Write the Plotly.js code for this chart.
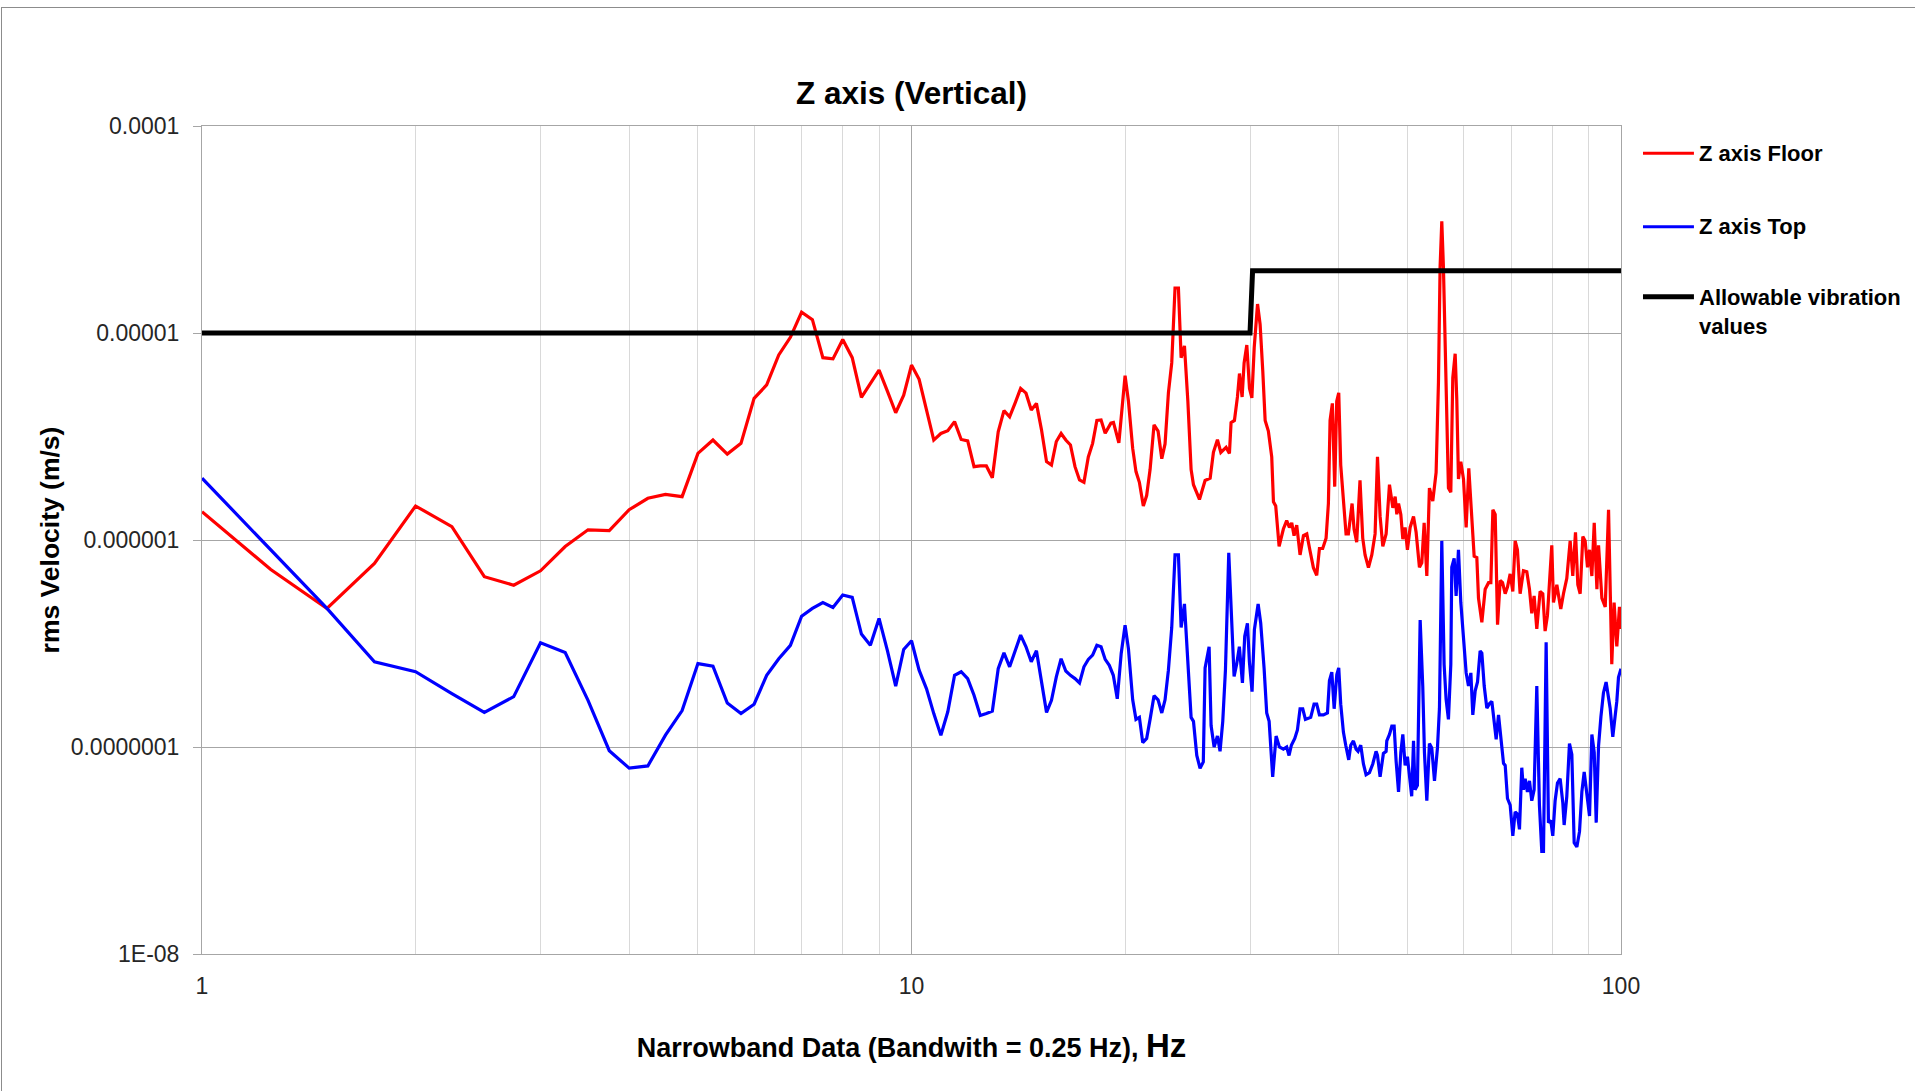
<!DOCTYPE html>
<html>
<head>
<meta charset="utf-8">
<script src="https://cdn.plot.ly/plotly-3.0.1.min.js"></script>
<style>
  html, body { margin: 0; padding: 0; background: #ffffff; }
  #chart { width: 1915px; height: 1091px; }
  #frame { position: absolute; top: 7px; left: 1px; width: 1920px; height: 1100px;
           border-top: 1px solid #8c8c8c; border-left: 1px solid #8c8c8c; pointer-events: none; }
</style>
</head>
<body>
<div id="chart"></div>
<div id="frame"></div>
<script>
// ---------- data ----------
const seriesNames = ['Z axis Floor', 'Z axis Top', 'Allowable vibration values'];

const floorHz = [
  1,1.25,1.5,1.75,2,2.25,2.5,2.75,3,3.25,3.5,3.75,4,4.25,4.5,4.75,5,5.25,5.5,5.75,
  6,6.25,6.5,6.75,7,7.25,7.5,7.75,8,8.25,8.5,8.75,9,9.25,9.5,9.75,10,10.25,10.5,10.75,
  11,11.25,11.5,11.75,12,12.25,12.5,12.75,13,13.25,13.5,13.75,14,14.25,14.5,14.75,15,15.25,15.5,15.75,
  16,16.25,16.5,16.75,17,17.25,17.5,17.75,18,18.25,18.5,18.75,19.1,19.26,19.6,
  20.0,20.22,20.5,20.72,20.95,21.22,21.45,21.69,21.97,22.26,22.53,22.77,23.02,23.27,23.52,23.78,23.99,24.25,24.52,24.78,24.97,
  25.46,25.93,26.36,26.64,26.99,27.29,27.76,28.06,28.21,28.52,28.8,28.99,29.24,29.43,29.69,29.95,30.18,30.41,30.74,31.0,
  31.27,31.51,31.84,32.19,32.37,32.61,32.97,33.43,33.79,34.09,34.35,34.61,34.91,35.29,35.68,36.07,36.45,36.85,37.25,37.58,
  37.98,38.4,38.69,38.9,39.19,39.49,39.75,40.01,40.27,40.62,40.97,41.28,41.78,42.05,42.41,42.87,43.25,43.58,44.06,44.54,
  45.02,45.37,45.76,46.16,46.66,47.17,47.69,
  48.05,48.31,48.58,48.94,49.26,49.63,50.0,50.44,51.0,51.43,51.99,52.39,52.79,53.25,53.7,54.29,54.88,55.3,55.59,55.9,
  56.2,56.69,57.12,57.56,57.93,58.38,58.69,59.01,59.46,59.98,60.5,61.02,61.63,62.09,62.63,62.97,63.66,64.35,65.06,65.55,
  65.98,66.48,66.99,67.56,68.08,68.67,69.18,69.79,70.39,70.93,71.45,72.08,72.86,73.66,74.3,74.86,75.43,76.09,76.91,77.58,
  78.17,78.76,79.88,80.32,81.2,82.25,82.97,83.87,84.79,85.51,86.27,86.93,87.59,88.35,89.02,89.7,90.29,90.98,91.68,92.48,
  92.97,93.98,95.01,96.04,97.05,97.79,98.65,99.5,100
];
const floorVel = [
  1.37e-6,7.2e-7,4.67e-7,7.7e-7,1.46e-6,1.16e-6,6.65e-7,6.05e-7,7.1e-7,9.3e-7,1.12e-6,1.11e-6,1.40e-6,1.59e-6,1.66e-6,1.62e-6,2.62e-6,3.04e-6,2.60e-6,2.93e-6,
  4.83e-6,5.61e-6,7.83e-6,9.53e-6,1.26e-5,1.16e-5,7.6e-6,7.5e-6,9.3e-6,7.6e-6,4.89e-6,5.69e-6,6.62e-6,5.22e-6,4.12e-6,5.01e-6,7.0e-6,5.97e-6,4.25e-6,3.04e-6,
  3.27e-6,3.37e-6,3.73e-6,3.06e-6,3.01e-6,2.26e-6,2.28e-6,2.28e-6,2.0e-6,3.33e-6,4.22e-6,3.94e-6,4.6e-6,5.4e-6,5.12e-6,4.25e-6,4.57e-6,3.4e-6,2.39e-6,2.3e-6,
  2.99e-6,3.27e-6,3.04e-6,2.88e-6,2.26e-6,1.95e-6,1.9e-6,2.52e-6,2.93e-6,3.78e-6,3.8e-6,3.28e-6,3.67e-6,3.7e-6,2.95e-6,
  6.22e-6,4.68e-6,2.77e-6,2.14e-6,1.90e-6,1.46e-6,1.64e-6,2.19e-6,3.60e-6,3.36e-6,2.47e-6,2.91e-6,5.14e-6,7.17e-6,1.65e-5,1.65e-5,7.59e-6,8.67e-6,4.68e-6,2.19e-6,1.85e-6,
  1.57e-6,1.94e-6,1.99e-6,2.65e-6,3.05e-6,2.65e-6,2.80e-6,2.62e-6,3.69e-6,3.78e-6,4.91e-6,6.37e-6,4.91e-6,7.17e-6,8.75e-6,5.40e-6,4.86e-6,8.47e-6,1.38e-5,1.10e-5,
  6.52e-6,3.78e-6,3.36e-6,2.52e-6,1.53e-6,1.46e-6,9.31e-7,1.13e-6,1.24e-6,1.15e-6,1.21e-6,1.05e-6,1.18e-6,8.47e-7,1.05e-6,1.07e-6,8.88e-7,7.35e-7,6.75e-7,9.10e-7,
  9.10e-7,1.02e-6,1.50e-6,3.78e-6,4.57e-6,1.81e-6,4.68e-6,5.14e-6,2.30e-6,1.57e-6,1.07e-6,1.07e-6,1.50e-6,1.13e-6,9.77e-7,1.94e-6,1.02e-6,8.47e-7,7.35e-7,8.47e-7,
  1.07e-6,2.52e-6,1.30e-6,9.31e-7,1.07e-6,1.85e-6,1.43e-6,
  1.62e-6,1.33e-6,1.50e-6,1.33e-6,1.01e-6,1.15e-6,8.97e-7,1.15e-6,1.30e-6,1.09e-6,7.38e-7,7.75e-7,1.21e-6,6.70e-7,1.78e-6,1.54e-6,2.12e-6,5.78e-6,2.07e-5,3.46e-5,
  2.07e-5,4.75e-6,1.78e-6,1.70e-6,6.07e-6,7.94e-6,4.75e-6,1.97e-6,2.39e-6,1.97e-6,1.15e-6,2.22e-6,1.21e-6,8.34e-7,8.22e-7,5.24e-7,4.0e-7,5.78e-7,6.22e-7,6.22e-7,
  1.40e-6,1.33e-6,3.90e-7,6.37e-7,6.22e-7,5.50e-7,5.92e-7,6.86e-7,5.64e-7,9.9e-7,8.97e-7,5.50e-7,7.10e-7,7.03e-7,5.78e-7,4.42e-7,5.37e-7,3.72e-7,5.64e-7,5.50e-7,
  3.63e-7,4.31e-7,9.42e-7,4.99e-7,6.07e-7,4.64e-7,5.50e-7,6.53e-7,9.9e-7,6.70e-7,1.09e-6,6.07e-7,5.50e-7,1.04e-6,9.9e-7,7.38e-7,8.97e-7,6.70e-7,1.21e-6,5.78e-7,
  9.42e-7,5.24e-7,4.75e-7,1.40e-6,2.51e-7,4.99e-7,3.06e-7,4.75e-7,3.72e-7
];

const topHz = [
  1,1.25,1.5,1.75,2,2.25,2.5,2.75,3,3.25,3.5,3.75,4,4.25,4.5,4.75,5,5.25,5.5,5.75,
  6,6.25,6.5,6.75,7,7.25,7.5,7.75,8,8.25,8.5,8.75,9,9.25,9.5,9.75,10,10.25,10.5,10.75,
  11,11.25,11.5,11.75,12,12.25,12.5,12.75,13,13.25,13.5,13.75,14,14.25,14.5,14.75,15,15.25,15.5,15.75,
  16,16.25,16.5,16.75,17,17.25,17.5,17.75,18,18.25,18.5,18.75,19,19.25,19.5,19.75,20,
  20.22,20.5,20.72,20.95,21.18,21.45,21.69,21.97,22.26,22.53,22.77,23.02,23.27,23.52,23.78,23.99,24.25,24.57,24.78,24.97,
  25.24,25.51,25.78,25.93,26.27,26.44,26.7,26.99,27.22,27.46,27.7,28.0,28.21,28.49,28.73,28.98,29.27,29.49,29.75,29.94,
  30.2,30.43,30.8,31.06,31.4,31.67,31.92,32.29,32.65,33.0,33.43,33.79,34.05,34.31,34.69,34.99,35.29,35.6,35.91,36.53,
  36.93,37.25,37.58,38.07,38.57,38.82,39.12,39.42,39.76,40.01,40.27,40.62,40.93,41.33,41.6,41.96,42.33,42.6,42.97,43.35,
  43.72,44.2,44.68,45.16,45.37,45.76,46.25,46.66,46.76,47.17,
  47.53,47.89,48.2,48.58,48.94,49.26,49.63,50.0,50.31,50.7,51.0,51.25,51.65,52.11,52.55,52.84,53.25,53.7,54.11,54.59,
  55.12,55.48,55.9,56.32,56.69,57.12,57.56,57.74,58.19,58.56,59.01,59.46,59.98,60.5,60.96,61.43,61.82,62.3,62.77,63.31,
  63.66,64.15,64.7,65.27,65.76,66.27,66.69,67.2,67.71,68.3,68.67,69.18,69.79,70.39,70.93,71.45,71.93,72.47,72.86,73.27,
  73.81,74.3,74.86,75.43,76.09,76.74,77.33,77.76,78.43,79.02,79.62,80.14,80.75,81.37,82.08,82.79,83.15,83.87,84.6,85.25,
  85.9,86.65,87.4,88.07,88.74,89.51,90.29,90.98,91.68,92.27,92.97,93.69,94.47,95.28,96.04,96.54,97.37,98.11,98.65,99.19,100
];
const topVel = [
  1.99e-6,8.9e-7,4.67e-7,2.58e-7,2.31e-7,1.81e-7,1.47e-7,1.75e-7,3.19e-7,2.86e-7,1.68e-7,9.6e-8,7.9e-8,8.1e-8,1.14e-7,1.5e-7,2.53e-7,2.46e-7,1.63e-7,1.45e-7,
  1.61e-7,2.22e-7,2.67e-7,3.10e-7,4.28e-7,4.67e-7,4.99e-7,4.72e-7,5.42e-7,5.28e-7,3.51e-7,3.10e-7,4.18e-7,2.91e-7,1.97e-7,2.96e-7,3.26e-7,2.35e-7,1.91e-7,1.45e-7,
  1.14e-7,1.48e-7,2.22e-7,2.31e-7,2.14e-7,1.78e-7,1.42e-7,1.45e-7,1.49e-7,2.39e-7,2.85e-7,2.44e-7,2.94e-7,3.47e-7,3.05e-7,2.58e-7,2.92e-7,2.10e-7,1.47e-7,1.68e-7,
  2.18e-7,2.67e-7,2.33e-7,2.22e-7,2.14e-7,2.04e-7,2.44e-7,2.65e-7,2.78e-7,3.10e-7,3.05e-7,2.65e-7,2.48e-7,2.22e-7,1.71e-7,2.83e-7,3.87e-7,
  2.98e-7,1.69e-7,1.36e-7,1.39e-7,1.05e-7,1.10e-7,1.36e-7,1.77e-7,1.69e-7,1.46e-7,1.69e-7,2.35e-7,3.78e-7,8.47e-7,8.47e-7,3.78e-7,4.91e-7,2.35e-7,1.39e-7,1.33e-7,
  9.10e-8,7.89e-8,8.47e-8,2.41e-7,3.05e-7,1.27e-7,1.0e-7,1.13e-7,9.53e-8,1.33e-7,2.35e-7,8.67e-7,4.68e-7,2.19e-7,2.52e-7,3.05e-7,2.04e-7,3.43e-7,3.96e-7,2.58e-7,
  1.85e-7,3.69e-7,4.91e-7,3.96e-7,2.41e-7,1.46e-7,1.33e-7,7.18e-8,1.13e-7,1.0e-7,9.77e-8,1.0e-7,9.10e-8,1.02e-7,1.10e-7,1.21e-7,1.53e-7,1.53e-7,1.36e-7,1.39e-7,
  1.61e-7,1.61e-7,1.43e-7,1.43e-7,1.46e-7,2.09e-7,2.30e-7,1.53e-7,2.24e-7,2.41e-7,1.61e-7,1.18e-7,1.02e-7,8.67e-8,1.02e-7,1.07e-7,9.77e-8,9.53e-8,1.02e-7,8.28e-8,
  7.35e-8,7.52e-8,8.28e-8,9.53e-8,9.10e-8,7.18e-8,9.31e-8,9.53e-8,1.07e-7,1.15e-7,
  1.26e-7,1.26e-7,8.55e-8,6.07e-8,9.42e-8,1.15e-7,8.15e-8,8.97e-8,7.38e-8,5.78e-8,1.07e-7,6.22e-8,6.53e-8,4.10e-7,1.97e-7,9.42e-8,5.50e-8,1.04e-7,9.9e-8,6.86e-8,
  9.9e-8,1.54e-7,9.9e-7,2.51e-7,1.70e-7,1.36e-7,2.51e-7,7.38e-7,8.15e-7,5.37e-7,8.97e-7,4.99e-7,3.37e-7,2.28e-7,1.97e-7,2.28e-7,1.43e-7,1.87e-7,2.06e-7,2.91e-7,
  2.84e-7,1.97e-7,1.54e-7,1.62e-7,1.66e-7,1.33e-7,1.09e-7,1.43e-7,1.09e-7,8.34e-8,8.15e-8,5.64e-8,5.24e-8,3.72e-8,4.86e-8,4.75e-8,4.0e-8,7.94e-8,6.22e-8,7.03e-8,
  6.07e-8,6.86e-8,5.50e-8,6.22e-8,1.97e-7,5.24e-8,3.13e-8,3.13e-8,3.21e-7,4.31e-8,4.42e-8,3.72e-8,5.50e-8,6.70e-8,7.03e-8,5.37e-8,4.20e-8,5.78e-8,1.04e-7,9.2e-8,
  3.45e-8,3.29e-8,3.90e-8,6.07e-8,7.57e-8,5.78e-8,4.64e-8,1.15e-7,9.42e-8,4.31e-8,1.01e-7,1.40e-7,1.83e-7,2.06e-7,1.74e-7,1.54e-7,1.12e-7,1.40e-7,1.66e-7,2.17e-7,2.39e-7
];

const limitHz  = [1, 30, 30.25, 100];
const limitVel = [1e-5, 1e-5, 2e-5, 2e-5];

const xTickVals = [1, 10, 100];
const xTickText = ['1', '10', '100'];
const xMinorVals = [2,3,4,5,6,7,8,9,20,30,40,50,60,70,80,90];
const yTickVals = [1e-8, 1e-7, 1e-6, 1e-5, 1e-4];
const yTickText = ['1E-08', '0.0000001', '0.000001', '0.00001', '0.0001'];

const chartTitle = 'Z axis (Vertical)';
const xTitle = 'Narrowband Data (Bandwith = 0.25 Hz), <span style="font-size:33px">Hz</span>';
const yTitle = 'rms Velocity (m/s)';

// ---------- styles ----------
const FONT = 'Liberation Sans, Arial, sans-serif';
const colors = ['#ff0000', '#0000ff', '#000000'];
const widths = [3.2, 3.2, 5];

const traces = [
  {x: floorHz, y: floorVel, name: seriesNames[0], type: 'scatter', mode: 'lines',
   line: {color: colors[0], width: widths[0]}, showlegend: false},
  {x: topHz, y: topVel, name: seriesNames[1], type: 'scatter', mode: 'lines',
   line: {color: colors[1], width: widths[1]}, showlegend: false},
  {x: limitHz, y: limitVel, name: seriesNames[2], type: 'scatter', mode: 'lines',
   line: {color: colors[2], width: widths[2]}, showlegend: false}
];

// custom legend (paper coordinates right of the plot)
const legRows = [0.967, 0.8784, 0.7938];
const legShapes = legRows.map((yy, i) => ({
  type: 'line', xref: 'paper', yref: 'paper', x0: 1.0155, x1: 1.0514, y0: yy, y1: yy,
  line: {color: colors[i], width: i === 2 ? 5 : 3}
}));
const legAnn = [
  {text: seriesNames[0], y: legRows[0], yanchor: 'middle'},
  {text: seriesNames[1], y: legRows[1], yanchor: 'middle'},
  {text: 'Allowable vibration<br>values', y: 0.7758, yanchor: 'middle'}
].map(a => Object.assign({
  xref: 'paper', yref: 'paper', x: 1.0535, xanchor: 'left', showarrow: false, align: 'left',
  font: {family: FONT, size: 22, color: '#000000', weight: 'bold'}
}, a));

const layout = {
  width: 1915, height: 1091,
  margin: {l: 202, r: 294, t: 126, b: 137, pad: 0},
  paper_bgcolor: '#ffffff', plot_bgcolor: '#ffffff',
  font: {family: FONT, color: '#262626'},
  title: {text: chartTitle, font: {family: FONT, size: 31.5, color: '#000000', weight: 'bold'},
          x: 0.5, xref: 'paper', xanchor: 'center', y: 1 - 93/1091, yref: 'container', yanchor: 'middle'},
  xaxis: {
    type: 'log', range: [0, 2], tickmode: 'array', tickvals: xTickVals, ticktext: xTickText,
    showgrid: true, gridcolor: '#a6a6a6', gridwidth: 1,
    minor: {tickmode: 'array', tickvals: xMinorVals, showgrid: true, gridcolor: '#d9d9d9', gridwidth: 1, ticks: ''},
    showline: true, linecolor: '#a6a6a6', linewidth: 1, mirror: true,
    ticks: '', zeroline: false, ticklabelstandoff: 11,
    tickfont: {family: FONT, size: 23, color: '#262626'},
    title: {text: xTitle, font: {family: FONT, size: 27, color: '#000000', weight: 'bold'}, standoff: 40}
  },
  yaxis: {
    type: 'log', range: [-8, -4], tickmode: 'array', tickvals: yTickVals, ticktext: yTickText,
    showgrid: true, gridcolor: '#a6a6a6', gridwidth: 1,
    showline: true, linecolor: '#a6a6a6', linewidth: 1, mirror: true,
    ticks: 'outside', ticklen: 8, tickcolor: '#a6a6a6', tickwidth: 1, zeroline: false,
    ticklabelstandoff: 9,
    tickfont: {family: FONT, size: 23, color: '#262626'},
    title: {text: yTitle, font: {family: FONT, size: 26.5, color: '#000000', weight: 'bold'}, standoff: 3}
  },
  shapes: legShapes,
  annotations: legAnn,
  showlegend: false
};

Plotly.newPlot('chart', traces, layout, {displayModeBar: false, staticPlot: true});
</script>
</body>
</html>
